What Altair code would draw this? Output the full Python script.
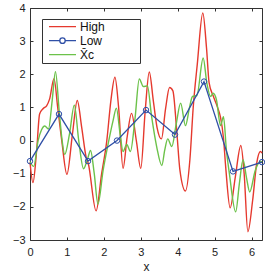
import altair as alt
import pandas as pd

# Series read as (x, y) pairs; smooth curves are drawn through them
high_x = [0.0, 0.08, 0.18, 0.26, 0.36, 0.45, 0.53, 0.65, 0.75, 0.86, 1.0, 1.15, 1.28,
          1.40, 1.52, 1.58, 1.79, 1.94, 2.08, 2.19, 2.30, 2.40, 2.52, 2.63, 2.75, 2.88,
          3.0, 3.12, 3.23, 3.34, 3.44, 3.56, 3.67, 3.78, 3.87, 3.97, 4.06, 4.21, 4.33,
          4.42, 4.53, 4.68, 4.78, 4.85, 4.96, 5.08, 5.16, 5.24, 5.30, 5.42, 5.56, 5.71,
          5.80, 5.90, 6.03, 6.14, 6.24, 6.283]
high_y = [-0.65, -1.27, -0.3, 0.8, 0.97, 1.05, 1.25, 1.87, 1.0, 0.0, -1.02, 0.2, 1.21,
          0.4, -0.5, -0.7, -2.12, -1.0, 0.0, 1.2, 1.91, 1.0, -0.84, 0.1, 0.82, 0.0,
          -0.84, 0.9, 2.07, 1.2, 0.4, 0.05, 0.95, 1.6, 1.5, 0.35, -0.89, -1.52, -0.58,
          1.0, 2.3, 3.85, 2.8, 1.75, 1.35, 1.0, 0.7, 0.07, -0.8, -2.03, -1.1, -0.15,
          -1.0, -2.75, -1.8, -0.68, -0.33, -0.38]

xc_x = [0.0, 0.10, 0.22, 0.31, 0.40, 0.50, 0.60, 0.69, 0.79, 0.87, 0.94, 1.07, 1.20,
        1.32, 1.45, 1.56, 1.64, 1.74, 1.84, 1.98, 2.12, 2.25, 2.34, 2.44, 2.52, 2.62,
        2.72, 2.84, 2.96, 3.07, 3.18, 3.29, 3.43, 3.57, 3.65, 3.73, 3.84, 3.96, 4.08,
        4.21, 4.32, 4.40, 4.52, 4.69, 4.79, 4.89, 4.96, 5.05, 5.16, 5.24, 5.32, 5.40,
        5.57, 5.67, 5.77, 5.86, 5.95, 6.10, 6.24, 6.283]
xc_y = [-0.63, -0.78, 0.0, 0.32, 0.44, 0.35, 1.2, 2.08, 0.9, 0.0, -0.42, 0.2, 1.07,
        0.0, -0.85, -0.55, -0.3, -1.0, -1.92, -0.9, -0.08, 0.6, 0.98, 0.2, -0.33, -0.12,
        -0.33, 0.62, 1.86, 1.63, 1.65, 0.75, -0.18, -0.75, -0.28, 0.05, -0.18, 0.5, 1.13,
        0.45, 1.0, 1.33, 1.36, 2.49, 1.73, 1.33, 1.43, 1.23, 0.45, 0.72, -0.3, -1.0,
        -2.15, -1.3, -0.58, -1.1, -1.55, -0.9, -0.63, -0.65]

low_x = [0.0, 0.785, 1.571, 2.356, 3.142, 3.927, 4.712, 5.498, 6.283]
low_y = [-0.62, 0.8, -0.62, 0.0, 0.92, 0.18, 1.78, -0.93, -0.65]

series_names = ["High", "Low", "X\u0304c"]
series_colors = ["#e5392e", "#2f4fa6", "#6cc24a"]

x_ticks = [0, 1, 2, 3, 4, 5, 6]
y_ticks = [-3, -2, -1, 0, 1, 2, 3, 4]

# Legend symbols: plain stroke, stroke with an open circle, plain stroke
legend_paths = [
    "M-1,0L1,0",
    "M-1,0L-0.2,0M0.2,0L1,0M-0.2,0A0.2,0.2 0 1,1 0.2,0A0.2,0.2 0 1,1 -0.2,0",
    "M-1,0L1,0",
]

high_df = pd.DataFrame({"x": high_x, "y": high_y})
xc_df = pd.DataFrame({"x": xc_x, "y": xc_y})
low_df = pd.DataFrame({"x": low_x, "y": low_y})
legend_df = pd.DataFrame({"series": series_names, "x": [None] * 3, "y": [None] * 3})

FONT = "Liberation Sans"
xscale = alt.Scale(domain=[0, 6.283], nice=False, zero=False)
yscale = alt.Scale(domain=[-3, 4], nice=False, zero=False)

tick_style = dict(offset=-3, tickSize=3, domain=False, grid=False,
                  tickColor="#333", tickWidth=1, labelFlush=False, labelOverlap=False)

bottom_axis = alt.Axis(values=x_ticks, format="d", title="x", labelPadding=6,
                       labelFont=FONT, labelFontSize=11, labelColor="#222",
                       titleFont=FONT, titleFontSize=12, titleFontWeight="normal",
                       titleColor="#222", titlePadding=4, **tick_style)
left_axis = alt.Axis(values=y_ticks, format="d", title=None, labelPadding=5,
                     labelFont=FONT, labelFontSize=11, labelColor="#222", **tick_style)
top_axis = alt.Axis(orient="top", values=x_ticks, labels=False, title=None, **tick_style)
right_axis = alt.Axis(orient="right", values=y_ticks, labels=False, title=None, **tick_style)

high_line = alt.Chart(high_df).mark_line(
    color=series_colors[0], strokeWidth=1.4, interpolate="monotone"
).encode(
    x=alt.X("x:Q", scale=xscale, axis=bottom_axis),
    y=alt.Y("y:Q", scale=yscale, axis=left_axis),
)

xc_line = alt.Chart(xc_df).mark_line(
    color=series_colors[2], strokeWidth=1.4, interpolate="monotone"
).encode(
    x=alt.X("x:Q", scale=xscale, axis=None),
    y=alt.Y("y:Q", scale=yscale, axis=None),
)

low_line = alt.Chart(low_df).mark_line(
    color=series_colors[1], strokeWidth=1.3
).encode(
    x=alt.X("x:Q", scale=xscale, axis=None),
    y=alt.Y("y:Q", scale=yscale, axis=None),
)

low_points = alt.Chart(low_df).mark_point(
    shape="circle", filled=False, size=30, color=series_colors[1], strokeWidth=1, opacity=1
).encode(
    x=alt.X("x:Q", scale=xscale, axis=None),
    y=alt.Y("y:Q", scale=yscale, axis=None),
)

# No-break spaces closed by a zero-width space (so they are not trimmed)
# widen the legend frame to the right
legend_pad = "\u00a0" * 10 + "\u200b"
legend_props = dict(
    title=None, orient="none", legendX=12, legendY=11,
    symbolSize=729, symbolStrokeWidth=1.3, clipHeight=13.3, rowPadding=0,
    padding=1, symbolOffset=5, labelOffset=3,
    labelFont=FONT, labelFontSize=12, labelColor="#111",
    strokeColor="#333", fillColor="white",
    labelExpr="datum.label + '" + legend_pad + "'",
)

legend_layer = alt.Chart(legend_df).mark_point(filled=False, strokeWidth=1.3, opacity=1).encode(
    x=alt.X("x:Q", scale=xscale, axis=top_axis),
    y=alt.Y("y:Q", scale=yscale, axis=right_axis),
    color=alt.Color("series:N", scale=alt.Scale(domain=series_names, range=series_colors),
                    legend=alt.Legend(**legend_props)),
    shape=alt.Shape("series:N", scale=alt.Scale(domain=series_names, range=legend_paths),
                    legend=alt.Legend(**legend_props)),
)

chart = alt.layer(
    high_line, xc_line, low_line, low_points, legend_layer
).resolve_axis(
    x="independent", y="independent"
).properties(
    width=232, height=232,
    autosize=alt.AutoSizeParams(type="none"),
    padding={"left": 30, "top": 8, "right": 3, "bottom": 32},
    background="white",
).configure_view(
    stroke="#333", strokeWidth=1
)

chart.save("out.html", embed_options={"renderer": "svg", "actions": False})
